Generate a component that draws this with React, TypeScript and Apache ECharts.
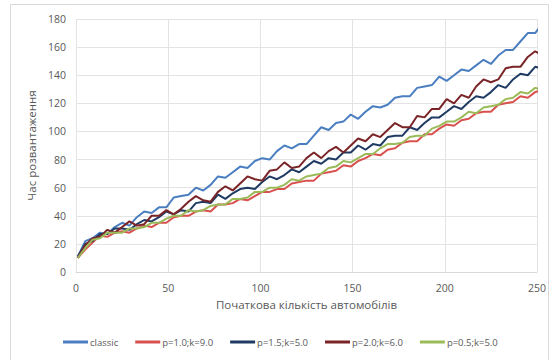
import React, { useEffect, useRef } from "react";
import * as echarts from "echarts";

const xs = [1, 5, 9, 13, 17, 21, 25, 29, 33, 37, 41, 45, 49, 53, 57, 61, 65, 69, 73, 77, 81, 85, 89, 93, 97, 101, 105, 109, 113, 117, 121, 125, 129, 133, 137, 141, 145, 149, 153, 157, 161, 165, 169, 173, 177, 181, 185, 189, 193, 197, 201, 205, 209, 213, 217, 221, 225, 229, 233, 237, 241, 245, 249, 252];

const classic = [11, 22, 24, 28, 27, 32, 35, 33, 39, 43, 42, 46, 46, 53, 54, 55, 60, 58, 62, 68, 67, 71, 75, 74, 79, 81, 80, 86, 90, 88, 91, 91, 97, 103, 101, 106, 107, 112, 109, 114, 118, 117, 119, 124, 125, 125, 131, 132, 133, 139, 136, 140, 144, 143, 147, 151, 148, 154, 158, 158, 164, 170, 170, 175];
const p10k90 = [10, 16, 21, 26, 25, 28, 29, 28, 31, 33, 32, 35, 35, 39, 40, 40, 43, 44, 43, 48, 48, 49, 52, 51, 54, 57, 57, 59, 59, 63, 64, 65, 65, 70, 71, 72, 76, 75, 79, 81, 84, 83, 87, 88, 92, 93, 93, 98, 98, 102, 105, 104, 108, 109, 113, 114, 114, 119, 120, 121, 125, 124, 128, 129];
const p15k50 = [11, 20, 22, 27, 27, 31, 31, 30, 34, 37, 36, 39, 43, 41, 44, 43, 49, 50, 49, 55, 52, 56, 59, 60, 59, 64, 68, 66, 69, 73, 71, 75, 79, 77, 81, 80, 85, 85, 90, 87, 91, 90, 96, 97, 97, 103, 101, 106, 110, 110, 114, 118, 116, 121, 125, 124, 128, 133, 131, 137, 141, 140, 146, 145];
const p20k60 = [10, 19, 24, 25, 30, 28, 32, 36, 33, 34, 40, 40, 44, 41, 45, 50, 54, 51, 50, 57, 61, 58, 63, 68, 66, 65, 72, 73, 78, 74, 75, 81, 85, 81, 86, 89, 85, 90, 95, 93, 98, 96, 101, 106, 103, 103, 111, 110, 116, 116, 123, 120, 126, 124, 132, 137, 135, 137, 145, 146, 146, 153, 157, 155];
const p05k50 = [10, 17, 23, 24, 28, 28, 28, 31, 31, 32, 35, 35, 38, 40, 40, 44, 43, 44, 47, 48, 48, 52, 52, 53, 57, 57, 60, 60, 62, 66, 65, 68, 69, 70, 74, 75, 79, 78, 81, 84, 84, 88, 91, 91, 92, 96, 97, 97, 102, 104, 107, 107, 110, 114, 113, 117, 118, 119, 123, 124, 128, 127, 131, 130];

const seriesNames = ["classic", "p=1.0;k=9.0", "p=1.5;k=5.0", "p=2.0;k=6.0", "p=0.5;k=5.0"];
const seriesData = [classic, p10k90, p15k50, p20k60, p05k50];
const seriesColors = ["#4a7ec0", "#d9514e", "#1f3b63", "#7a2427", "#9bbb59"];

const xTitle = "Початкова кількість автомобілів";
const yTitle = "Час розвантаження";

export default function App() {
  const ref = useRef<HTMLDivElement>(null);
  useEffect(() => {
    if (!ref.current) return;
    const chart = echarts.init(ref.current, null, { renderer: "svg" });
    const font = "'Open Sans', 'Noto Sans', sans-serif";
    chart.setOption({
      animation: false,
      backgroundColor: "#ffffff",
      textStyle: { fontFamily: font },
      graphic: [
        {
          type: "rect",
          shape: { x: 10.5, y: 4.5, width: 538, height: 360 },
          style: { fill: "none", stroke: "#d9d9d9", lineWidth: 1 },
          silent: true,
          z: -10,
        },
      ],
      grid: { left: 76, right: 16, top: 19, bottom: 88, containLabel: false },
      xAxis: {
        type: "value",
        min: 0,
        max: 250,
        interval: 50,
        name: xTitle,
        nameLocation: "middle",
        nameGap: 26,
        nameTextStyle: { color: "#595959", fontSize: 11.5, fontFamily: font },
        axisLine: { show: true, lineStyle: { color: "#d9d9d9" } },
        axisTick: { show: false },
        axisLabel: { color: "#595959", fontSize: 10.5, margin: 10, fontFamily: font },
        splitLine: { show: true, lineStyle: { color: "#e3e3e3", width: 1 } },
      },
      yAxis: {
        type: "value",
        min: 0,
        max: 180,
        interval: 20,
        name: yTitle,
        nameLocation: "middle",
        nameGap: 36,
        nameRotate: 90,
        nameTextStyle: { color: "#595959", fontSize: 11.5, fontFamily: font },
        axisLine: { show: false },
        axisTick: { show: false },
        axisLabel: { color: "#595959", fontSize: 10.5, margin: 10, fontFamily: font },
        splitLine: { show: true, lineStyle: { color: "#e3e3e3", width: 1 } },
      },
      legend: {
        bottom: 8,
        left: 58,
        itemWidth: 25,
        itemHeight: 3,
        itemGap: 17,
        icon: "rect",
        textStyle: { color: "#595959", fontSize: 9.5, fontFamily: font, padding: [0, 0, 0, -3] },
        data: seriesNames,
      },
      series: seriesNames.map((name, i) => ({
        name,
        type: "line",
        showSymbol: false,
        symbol: "none",
        color: seriesColors[i],
        lineStyle: { width: 2, color: seriesColors[i] },
        data: xs.map((x, j) => [x, seriesData[i][j]]),
        z: i === 0 ? 2 : 3 + i,
      })),
    });
    return () => chart.dispose();
  }, []);
  return (
    <div
      ref={ref}
      style={{ position: "absolute", left: 0, top: 0, width: 553, height: 360 }}
    />
  );
}
